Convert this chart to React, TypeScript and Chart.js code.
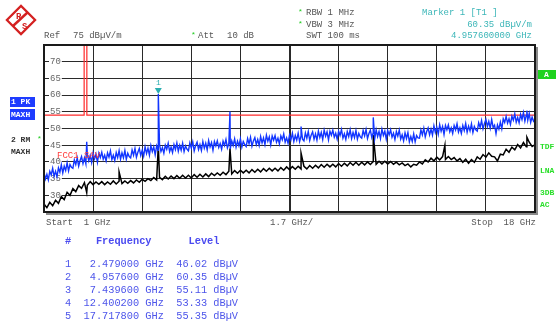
import React, { useEffect, useRef } from 'react';
import { Chart, registerables } from 'chart.js';

Chart.register(...registerables);

// ---- sweep settings ----
const START_GHZ = 1;
const STOP_GHZ = 18;
const PK_STEP_GHZ = 0.05;
const RM_STEP_GHZ = 0.1;
const gridFreqs = [1, 2.7, 4.4, 6.1, 7.8, 9.5, 11.2, 12.9, 14.6, 16.3, 18];
const REF_LEVEL = 75;
const BOTTOM_LEVEL = 25;
const LEVEL_STEP = 5;

// ---- trace 1: PK MAXH (blue), dBµV/m, one value per 0.05 GHz from 1 GHz ----
const pkTrace = [
  36.8, 34.9, 36.3, 34.6, 37.2, 36.1, 38.1, 35.7, 37.2, 35.6, 38.2, 36.9, 39.1, 36.7, 38.7, 37.4, 39.7, 37.3, 39.2, 38.4,
  38.1, 40.6, 39.2, 41.2, 38.7, 40.4, 41.6, 39.5, 41.2, 39.4, 42.3, 40.3, 41.9, 39.8, 42.7, 40.9, 42.3, 39.9, 42.6, 41.3,
  42.9, 40.8, 42.0, 40.3, 42.7, 41.4, 43.3, 40.7, 42.0, 40.4, 42.8, 41.3, 43.4, 40.8, 42.7, 41.2, 43.4, 40.8, 42.6, 41.6,
  41.2, 43.6, 42.0, 44.0, 41.4, 42.9, 44.0, 41.9, 43.5, 41.7, 44.5, 42.5, 44.1, 42.0, 44.9, 43.1, 44.5, 42.1, 44.8, 43.5,
  45.1, 43.1, 44.3, 42.6, 45.0, 43.8, 45.6, 43.1, 44.4, 42.8, 45.2, 43.7, 45.7, 43.2, 45.0, 43.5, 45.6, 43.1, 44.8, 43.8,
  43.3, 45.7, 44.1, 46.0, 43.3, 44.9, 45.9, 43.7, 45.2, 43.4, 46.1, 44.1, 45.6, 43.6, 46.4, 44.5, 45.8, 43.5, 46.1, 44.8,
  46.3, 44.3, 45.5, 43.8, 46.2, 44.9, 46.7, 44.2, 45.5, 43.9, 46.3, 44.9, 46.9, 44.4, 46.2, 44.8, 46.9, 44.4, 46.1, 45.2,
  44.6, 47.0, 45.4, 47.4, 44.7, 46.3, 47.3, 45.2, 46.7, 44.9, 47.6, 45.7, 47.2, 45.2, 48.0, 46.2, 47.5, 45.1, 47.8, 46.5,
  47.9, 45.9, 47.1, 45.4, 47.8, 46.6, 48.4, 45.9, 47.2, 45.6, 48.0, 46.6, 48.6, 46.1, 47.9, 46.5, 48.6, 46.1, 47.8, 46.8,
  46.3, 48.7, 47.1, 49.1, 46.4, 48.0, 49.0, 46.8, 48.4, 46.5, 49.2, 47.3, 48.8, 46.7, 49.5, 47.7, 49.0, 46.6, 49.2, 48.0,
  49.5, 47.4, 48.6, 46.8, 49.2, 47.9, 49.7, 47.1, 48.4, 46.7, 49.1, 47.6, 49.6, 47.0, 48.8, 47.3, 49.4, 46.8, 48.5, 47.5,
  47.1, 49.4, 47.8, 49.7, 47.0, 48.5, 49.5, 47.3, 48.8, 46.9, 49.6, 47.6, 49.1, 47.0, 49.8, 47.9, 49.2, 46.8, 49.4, 48.1,
  49.6, 47.4, 48.6, 46.7, 49.1, 47.7, 49.5, 46.8, 48.1, 46.3, 48.7, 47.0, 48.8, 46.0, 47.6, 46.1, 48.4, 46.0, 47.9, 47.2,
  47.1, 49.6, 48.1, 50.1, 47.5, 49.1, 50.2, 48.1, 49.8, 48.0, 50.8, 48.8, 50.4, 48.3, 51.1, 49.2, 50.6, 48.2, 50.9, 49.6,
  51.1, 49.0, 50.2, 48.5, 50.9, 49.6, 51.4, 48.9, 50.2, 48.5, 50.9, 49.4, 51.5, 48.9, 50.7, 49.3, 51.4, 48.8, 50.6, 49.6,
  49.2, 51.7, 50.3, 52.4, 49.9, 51.5, 52.7, 50.6, 52.1, 50.1, 52.7, 50.3, 51.0, 48.5, 51.1, 49.8, 51.9, 49.9, 52.9, 51.8,
  53.6, 51.6, 52.9, 51.2, 53.7, 52.5, 54.4, 51.9, 53.3, 51.7, 54.2, 52.7, 54.8, 52.2, 54.0, 52.5, 54.5, 51.8, 53.4, 52.2,
  52.8,
];
const pkSpikeFreqs = [2.479, 4.9576, 7.4396, 9.9, 12.4002, 17.7178];
const pkSpikeLevels = [46.02, 60.35, 55.11, 50.6, 53.33, 55.35];

// ---- trace 2: RM MAXH (black), one value per 0.1 GHz from 1 GHz ----
const rmTrace = [
  27.4, 26.3, 27.9, 26.9, 28.5, 27.6, 29.6, 28.7, 30.9, 30.0,
  32.0, 31.1, 32.9, 32.1, 33.8, 33.0, 34.1, 33.2, 34.0, 33.3,
  34.1, 33.2, 34.0, 33.3, 34.3, 33.4, 34.2, 33.5, 34.3, 33.6,
  34.4, 33.7, 34.6, 33.9, 34.8, 34.2, 35.0, 34.4, 35.3, 34.6,
  35.4, 34.7, 35.7, 34.9, 35.8, 35.0, 35.9, 35.1, 36.0, 35.2,
  36.0, 35.2, 36.2, 35.4, 36.3, 35.5, 36.4, 35.6, 36.6, 35.9,
  36.7, 36.0, 36.9, 36.2, 37.2, 36.4, 37.4, 36.6, 37.5, 36.7,
  37.5, 36.7, 37.7, 36.9, 37.8, 37.0, 38.0, 37.2, 38.1, 37.3,
  38.1, 37.3, 38.3, 37.5, 38.5, 37.7, 38.6, 37.8, 38.7, 37.9,
  38.7, 37.9, 38.9, 38.1, 39.0, 38.2, 39.2, 38.4, 39.3, 38.5,
  39.3, 38.5, 39.5, 38.7, 39.6, 38.8, 39.8, 39.0, 39.9, 39.0,
  39.9, 39.1, 40.0, 39.2, 40.1, 39.3, 40.2, 39.4, 40.2, 39.4,
  40.1, 39.3, 39.9, 39.1, 39.7, 38.9, 39.4, 38.5, 39.3, 39.0,
  40.0, 39.4, 40.6, 40.0, 41.1, 40.3, 41.4, 40.6, 41.6, 40.7,
  41.6, 40.7, 41.3, 40.3, 41.0, 39.9, 40.8, 39.6, 40.7, 39.9,
  41.5, 40.8, 42.2, 41.4, 42.7, 41.7, 41.5, 40.3, 42.3, 42.1,
  43.8, 42.9, 44.4, 43.6, 45.2, 44.2, 45.8, 44.5, 45.9, 44.6,
  45.2,
];
const rmSpikeFreqs = [2.479, 3.6, 4.9576, 7.4396, 9.9, 12.4002, 14.88, 17.72];
const rmSpikeLevels = [30.8, 37.0, 44.8, 44.0, 42.6, 48.0, 45.0, 47.4];

// ---- limit line FCC1 SAV ----
const limitFreqs = [1, 1, 2.39, 2.39, 2.4835, 2.4835, 18];
const limitLevels = [46, 54, 54, 80, 80, 54, 54];

// ---- active marker ----
const activeMarkerFreq = 4.9576;
const activeMarkerLevel = 60.35;

// ---- marker table ----
const tableNumbers = [1, 2, 3, 4, 5];
const tableFreqs = [2.479, 4.9576, 7.4396, 12.4002, 17.7178];
const tableLevels = [46.02, 60.35, 55.11, 53.33, 55.35];

const MONO = "'Liberation Mono', 'DejaVu Sans Mono', monospace";

function sweepPoints(values: number[], step: number) {
  return values.map((v, i) => ({ x: +(START_GHZ + i * step).toFixed(4), y: v }));
}
function withSpikes(values: number[], step: number, fs: number[], ls: number[]) {
  return [...sweepPoints(values, step), ...fs.map((f, i) => ({ x: f, y: ls[i] }))].sort((a, b) => a.x - b.x);
}

type TProps = {
  x: number; y: number; text: string; color?: string; size?: number;
  align?: 'left' | 'right'; bold?: boolean;
};
function T({ x, y, text, color = '#555', size = 9, align = 'left', bold = false }: TProps) {
  const style: React.CSSProperties = {
    position: 'absolute',
    top: y - size / 2 - 1,
    fontFamily: MONO,
    fontSize: size,
    lineHeight: `${size + 2}px`,
    color,
    whiteSpace: 'pre',
    fontWeight: bold ? 'bold' : 'normal',
  };
  if (align === 'left') style.left = x; else style.right = 556 - x;
  return <span style={style}>{text}</span>;
}

export default function App() {
  const canvasRef = useRef<HTMLCanvasElement | null>(null);

  useEffect(() => {
    const canvas = canvasRef.current;
    if (!canvas) return;

    const framePlugin = {
      id: 'frame',
      afterDraw(chart: any) {
        const { ctx, chartArea: a } = chart;
        ctx.save();
        ctx.strokeStyle = '#1a1a1a';
        ctx.lineWidth = 2;
        ctx.strokeRect(a.left, a.top, a.right - a.left, a.bottom - a.top);
        ctx.fillStyle = '#8a8a8a';
        ctx.fillRect(a.right + 1, a.top + 2, 2, a.bottom - a.top + 1);
        ctx.fillRect(a.left + 2, a.bottom + 1, a.right - a.left + 1, 2);
        ctx.restore();
      },
    };

    const markerPlugin = {
      id: 'activeMarker',
      afterDatasetsDraw(chart: any) {
        const { ctx, scales } = chart;
        const px = scales.x.getPixelForValue(activeMarkerFreq);
        const py = scales.y.getPixelForValue(activeMarkerLevel);
        ctx.save();
        ctx.fillStyle = '#2aaeb0';
        ctx.beginPath();
        ctx.moveTo(px, py);
        ctx.lineTo(px - 3.5, py - 6);
        ctx.lineTo(px + 3.5, py - 6);
        ctx.closePath();
        ctx.fill();
        ctx.font = `8px ${MONO}`;
        ctx.textAlign = 'center';
        ctx.textBaseline = 'middle';
        ctx.fillText('1', px, py - 11);
        ctx.restore();
      },
    };

    const chart = new Chart(canvas, {
      type: 'line',
      data: {
        datasets: [
          {
            label: 'PK MAXH',
            data: withSpikes(pkTrace, PK_STEP_GHZ, pkSpikeFreqs, pkSpikeLevels),
            borderColor: '#1236ff',
            borderWidth: 1.4,
            pointRadius: 0,
            order: 1,
          },
          {
            label: 'FCC1 SAV',
            data: limitFreqs.map((f, i) => ({ x: f, y: limitLevels[i] })),
            borderColor: '#ff2a2a',
            borderWidth: 1.2,
            pointRadius: 0,
            order: 2,
          },
          {
            label: 'RM MAXH',
            data: withSpikes(rmTrace, RM_STEP_GHZ, rmSpikeFreqs, rmSpikeLevels),
            borderColor: '#000000',
            borderWidth: 1.5,
            pointRadius: 0,
            order: 3,
          },
        ],
      },
      options: {
        animation: false,
        responsive: false,
        maintainAspectRatio: false,
        devicePixelRatio: 1,
        layout: { padding: { left: 32, top: 45, right: 21, bottom: 112 } },
        elements: { line: { tension: 0 } },
        plugins: { legend: { display: false }, tooltip: { enabled: false } },
        scales: {
          x: {
            type: 'linear',
            min: START_GHZ,
            max: STOP_GHZ,
            afterBuildTicks: (scale: any) => {
              scale.ticks = gridFreqs.map((v) => ({ value: v }));
            },
            ticks: { display: false },
            grid: {
              drawTicks: false,
              color: '#2a2a2a',
              lineWidth: (ctx: any) => (ctx.tick && Math.abs(ctx.tick.value - 9.5) < 1e-6 ? 2 : 1),
            },
            border: { display: false },
          },
          y: {
            type: 'linear',
            min: BOTTOM_LEVEL,
            max: REF_LEVEL,
            ticks: {
              stepSize: LEVEL_STEP,
              mirror: true,
              padding: 6,
              color: '#666',
              font: { family: MONO, size: 9 },
              showLabelBackdrop: true,
              backdropColor: '#ffffff',
              backdropPadding: { top: 0, bottom: 0, left: 1, right: 1 },
              callback: (v: any) => (v === BOTTOM_LEVEL || v === REF_LEVEL ? '' : String(v)),
            },
            grid: { drawTicks: false, color: '#2a2a2a', lineWidth: 1 },
            border: { display: false },
          },
        },
      },
      plugins: [framePlugin, markerPlugin],
    } as any);

    return () => chart.destroy();
  }, []);

  const header = '#    Frequency      Level';
  const rows = tableNumbers.map(
    (n, i) => `${n}  ${tableFreqs[i].toFixed(6).padStart(9)} GHz  ${tableLevels[i].toFixed(2)} dBµV`
  );

  return (
    <div style={{ position: 'absolute', left: 0, top: 0, width: 556, height: 324, background: '#fff', overflow: 'hidden' }}>
      <canvas ref={canvasRef} width={556} height={324} style={{ position: 'absolute', left: 0, top: 0, width: 556, height: 324 }} />

      {/* R&S logo */}
      <svg width={32} height={32} style={{ position: 'absolute', left: 5, top: 4 }} viewBox="0 0 32 32">
        <rect x={6} y={6} width={20} height={20} transform="rotate(45 16 16)" fill="#fff" stroke="#d42020" strokeWidth={2.2} />
        <line x1={8} y1={22} x2={23} y2={8} stroke="#d42020" strokeWidth={2.4} />
        <text x={11} y={15} fontFamily={MONO} fontSize={9} fontWeight="bold" fill="#d42020">R</text>
        <text x={17} y={25} fontFamily={MONO} fontSize={9} fontWeight="bold" fill="#d42020">S</text>
      </svg>

      {/* header */}
      <T x={44} y={36} text="Ref" />
      <T x={73} y={36} text="75 dBµV/m" />
      <T x={191} y={35} text="*" color="#22cc22" size={8} />
      <T x={198} y={36} text="Att" />
      <T x={227} y={36} text="10 dB" />
      <T x={298} y={12} text="*" color="#22cc22" size={8} />
      <T x={306} y={13} text="RBW 1 MHz" />
      <T x={298} y={24} text="*" color="#22cc22" size={8} />
      <T x={306} y={25} text="VBW 3 MHz" />
      <T x={306} y={36} text="SWT 100 ms" />
      <T x={422} y={13} text="Marker 1 [T1 ]" color="#3cb6b8" />
      <T x={532} y={25} text="60.35 dBµV/m" color="#3cb6b8" align="right" />
      <T x={532} y={36} text="4.957600000 GHz" color="#3cb6b8" align="right" />

      {/* left trace labels */}
      <div style={{ position: 'absolute', left: 10, top: 97, width: 25, height: 10, background: '#1e3cff' }} />
      <T x={11} y={102} text="1 PK" color="#fff" size={8} bold />
      <div style={{ position: 'absolute', left: 10, top: 109, width: 25, height: 11, background: '#1e3cff' }} />
      <T x={11} y={114.5} text="MAXH" color="#fff" size={8} bold />
      <T x={11} y={140} text="2 RM" color="#333" size={8} bold />
      <T x={37} y={139} text="*" color="#22cc22" size={8} />
      <T x={11} y={152} text="MAXH" color="#333" size={8} bold />

      {/* limit line label */}
      <T x={57} y={156} text="FCC1 SAV" color="#ff3a3a" size={9} />

      {/* right side labels */}
      <div style={{ position: 'absolute', left: 538, top: 70, width: 18, height: 9, background: '#1ed21e' }} />
      <T x={544} y={74.5} text="A" color="#fff" size={8} bold />
      <T x={540} y={147} text="TDF" color="#2adf2a" size={8} bold />
      <T x={540} y={171} text="LNA" color="#2adf2a" size={8} bold />
      <T x={540} y={193} text="3DB" color="#2adf2a" size={8} bold />
      <T x={540} y={205} text="AC" color="#2adf2a" size={8} bold />

      {/* x-axis annotation */}
      <T x={46} y={223} text="Start  1 GHz" />
      <T x={270} y={223} text="1.7 GHz/" />
      <T x={536} y={223} text="Stop  18 GHz" align="right" />

      {/* marker table */}
      <T x={65} y={241} text={header} color="#4a4af0" size={10.3} bold />
      {rows.map((r, i) => (
        <T key={i} x={65} y={264.3 + i * 12.9} text={r} color="#4d55ea" size={10.3} />
      ))}
    </div>
  );
}
